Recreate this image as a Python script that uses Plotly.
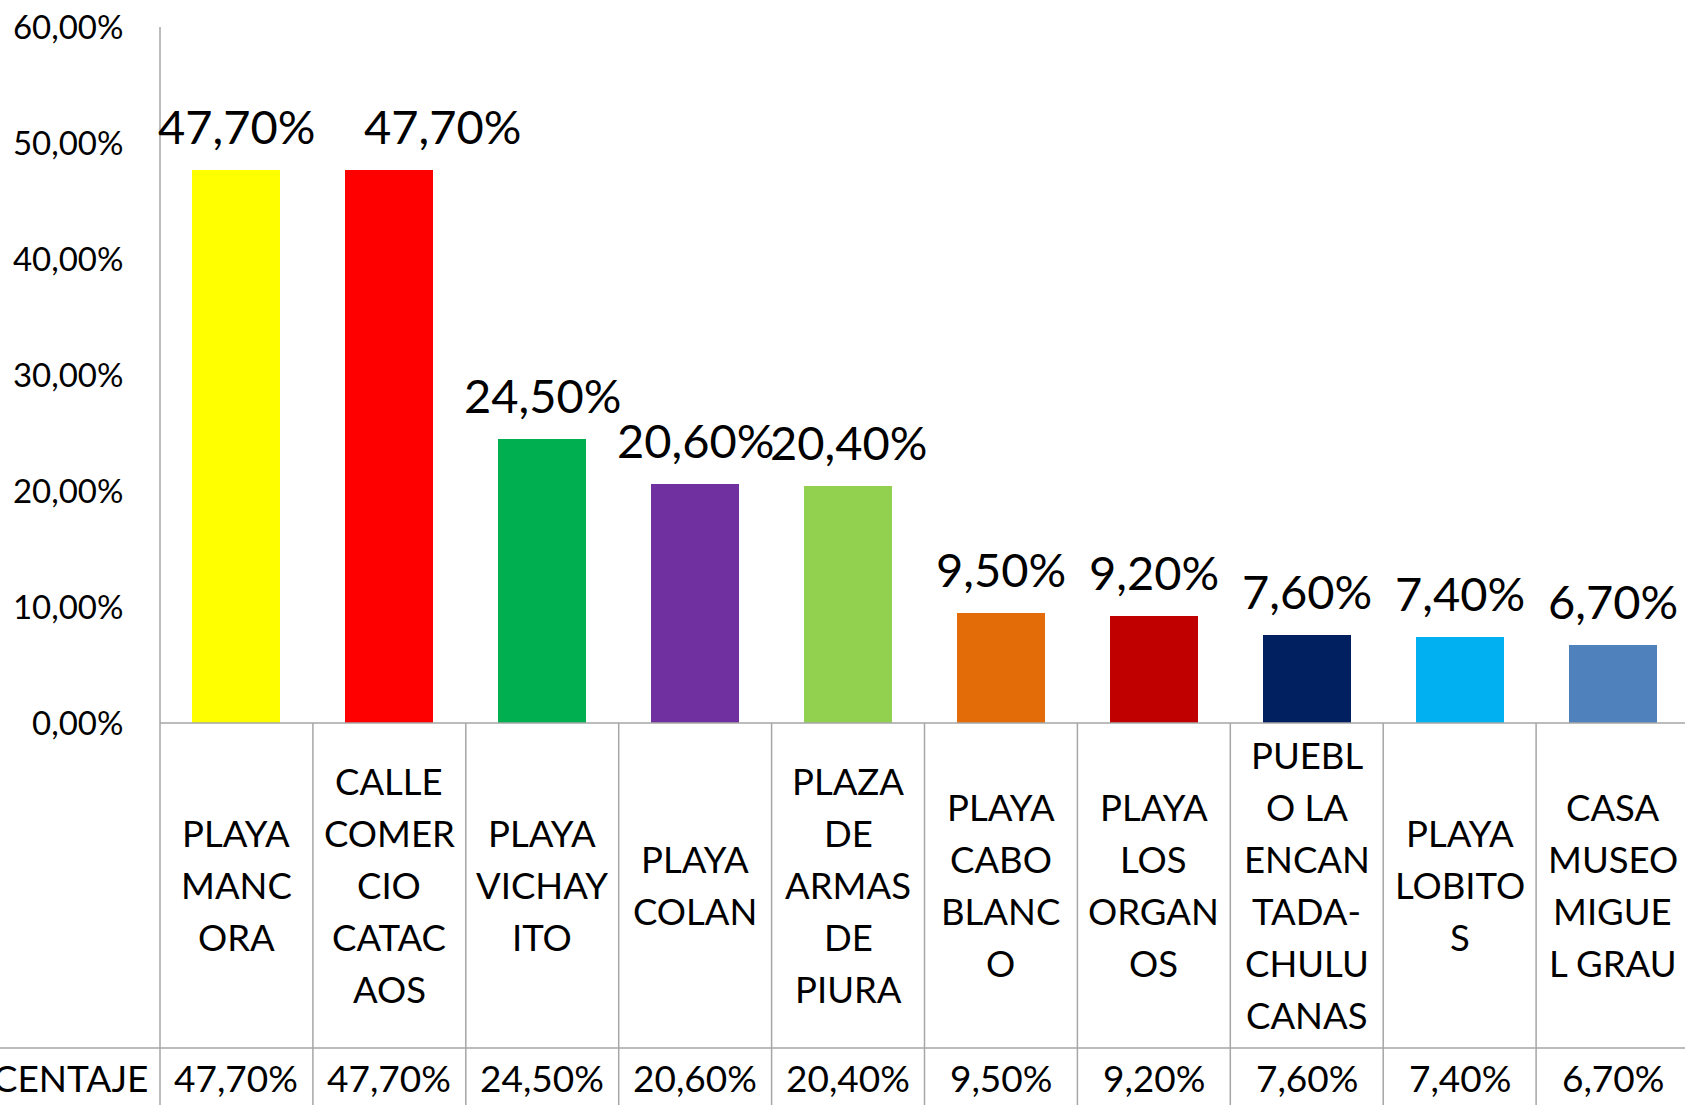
import plotly.graph_objects as go

categories = [
    "PLAYA\nMANC\nORA",
    "CALLE\nCOMER\nCIO\nCATAC\nAOS",
    "PLAYA\nVICHAY\nITO",
    "PLAYA\nCOLAN",
    "PLAZA\nDE\nARMAS\nDE\nPIURA",
    "PLAYA\nCABO\nBLANC\nO",
    "PLAYA\nLOS\nORGAN\nOS",
    "PUEBL\nO LA\nENCAN\nTADA-\nCHULU\nCANAS",
    "PLAYA\nLOBITO\nS",
    "CASA\nMUSEO\nMIGUE\nL GRAU",
]
values = [0.477, 0.477, 0.245, 0.206, 0.204, 0.095, 0.092, 0.076, 0.074, 0.067]
value_labels = ["47,70%", "47,70%", "24,50%", "20,60%", "20,40%",
                "9,50%", "9,20%", "7,60%", "7,40%", "6,70%"]
colors = ["#FFFF00", "#FF0000", "#00B050", "#7030A0", "#92D050",
          "#E36C09", "#C00000", "#002060", "#00B0F0", "#4F81BD"]
label_xshift = [0, 53, 0, 0, 0, 0, 0, 0, 0, 0]
tick_vals = [0, 0.1, 0.2, 0.3, 0.4, 0.5, 0.6]
tick_text = ["0,00%", "10,00%", "20,00%", "30,00%", "40,00%", "50,00%", "60,00%"]
row_title = "PORCENTAJE"

W, H = 1685, 1105
ML, MT, MB = 160, 27, 382
PH = H - MT - MB          # plot height in px
PW = W - ML               # plot width in px

def py(pix):  # page pixel y -> paper y
    return (H - MB - pix) / PH

def px(pix):  # page pixel x -> paper x
    return (pix - ML) / PW

FONT = "Lato"
GRID = "#A6A6A6"
xs = list(range(len(categories)))
x_max = -0.5 + PW / 152.9

fig = go.Figure()
fig.add_trace(go.Bar(
    x=xs, y=values, width=0.575,
    marker=dict(color=colors, line=dict(width=0)),
    hoverinfo="skip",
))

annotations = []
# data labels above bars
for i, (v, t, dx) in enumerate(zip(values, value_labels, label_xshift)):
    annotations.append(dict(x=i, y=v, xref="x", yref="y", text=t, showarrow=False,
                            yanchor="middle", xanchor="center", yshift=44, xshift=dx,
                            font=dict(family=FONT, size=47, color="#000000")))

# category labels in table row (each line positioned separately)
line_gap = 52
center_y = 885
for i, lab in enumerate(categories):
    lines = lab.split("\n")
    n = len(lines)
    for k, ln in enumerate(lines):
        ypix = center_y + (k - (n - 1) / 2) * line_gap
        annotations.append(dict(x=i, y=py(ypix), xref="x", yref="paper", text=ln,
                                showarrow=False, yanchor="middle", xanchor="center",
                                font=dict(family=FONT, size=36.5, color="#000000")))

# value row
for i, t in enumerate(value_labels):
    annotations.append(dict(x=i, y=py(1077), xref="x", yref="paper", text=t,
                            showarrow=False, yanchor="middle", xanchor="center",
                            font=dict(family=FONT, size=37, color="#000000")))
annotations.append(dict(x=px(150), y=py(1077), xref="paper", yref="paper", text=row_title,
                        showarrow=False, yanchor="middle", xanchor="right",
                        font=dict(family=FONT, size=37, color="#000000")))

shapes = []
# y axis line extended down through table
shapes.append(dict(type="line", xref="paper", yref="paper", x0=0, x1=0,
                   y0=1, y1=py(H), line=dict(color=GRID, width=1.5)))
# x axis line
shapes.append(dict(type="line", xref="paper", yref="paper", x0=0, x1=1,
                   y0=0, y1=0, line=dict(color=GRID, width=1.5)))
# row separator
shapes.append(dict(type="line", xref="paper", yref="paper", x0=px(0), x1=1,
                   y0=py(1048), y1=py(1048), line=dict(color=GRID, width=1.5)))
# vertical cell separators
for i in range(len(categories)):
    xb = i + 0.5
    shapes.append(dict(type="line", xref="x", yref="paper", x0=xb, x1=xb,
                       y0=0, y1=py(H), line=dict(color=GRID, width=1.5)))

fig.update_layout(
    width=W, height=H,
    margin=dict(l=ML, r=0, t=MT, b=MB, pad=0),
    paper_bgcolor="white", plot_bgcolor="white",
    showlegend=False,
    bargap=0,
    xaxis=dict(range=[-0.5, x_max], showticklabels=False,
               showgrid=False, zeroline=False, showline=False, fixedrange=True),
    yaxis=dict(range=[0, 0.6], tickvals=tick_vals, ticktext=tick_text,
               showgrid=False, zeroline=False, showline=False,
               ticks="outside", ticklen=29, tickcolor="rgba(0,0,0,0)",
               tickfont=dict(family=FONT, size=33, color="#000000"), fixedrange=True),
    annotations=annotations,
    shapes=shapes,
)

fig.write_html("out.html", config={"displayModeBar": False},
               post_script="document.body.style.margin='0';document.body.style.overflow='hidden';")
